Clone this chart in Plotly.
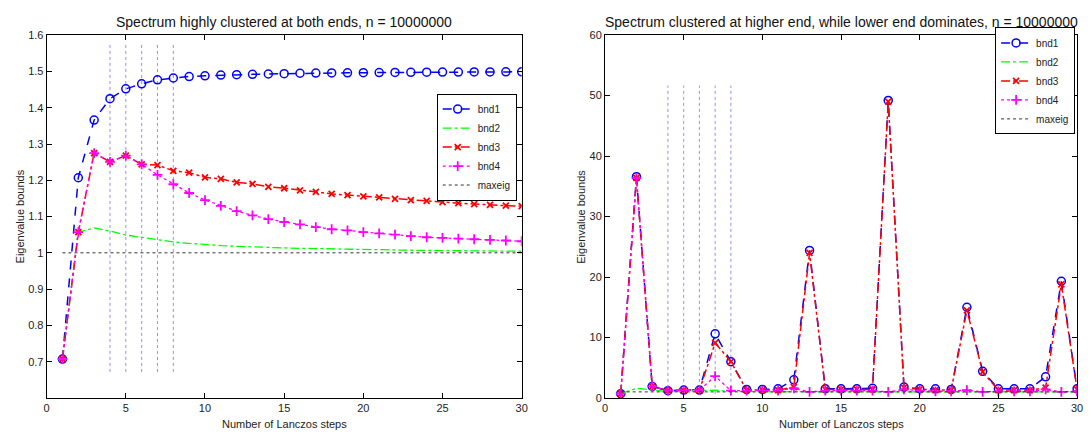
import plotly.graph_objects as go

steps = list(range(1, 31))

# Left panel: spectrum highly clustered at both ends
L_bnd1 = [0.707, 1.207, 1.366, 1.425, 1.452, 1.466, 1.477, 1.482, 1.486, 1.488,
          1.490, 1.491, 1.492, 1.493, 1.494, 1.495, 1.4955, 1.496, 1.4963, 1.4966,
          1.497, 1.4973, 1.4976, 1.4979, 1.4982, 1.4984, 1.4986, 1.4988, 1.499, 1.499]
L_bnd2 = [0.707, 1.057, 1.0687, 1.060, 1.049, 1.042, 1.036, 1.030, 1.026, 1.0225,
          1.020, 1.018, 1.016, 1.0145, 1.0135, 1.0125, 1.0115, 1.0105, 1.0097, 1.009,
          1.0083, 1.0077, 1.0071, 1.0066, 1.0061, 1.0057, 1.0053, 1.005, 1.0047, 1.0044]
L_bnd3 = [0.707, 1.057, 1.275, 1.251, 1.268, 1.244, 1.242, 1.226, 1.221, 1.208,
          1.204, 1.194, 1.190, 1.182, 1.178, 1.172, 1.168, 1.1625, 1.159, 1.1555,
          1.153, 1.149, 1.1455, 1.143, 1.140, 1.137, 1.134, 1.132, 1.130, 1.129]
L_bnd4 = [0.707, 1.057, 1.275, 1.251, 1.268, 1.244, 1.215, 1.189, 1.165, 1.1455,
          1.1295, 1.115, 1.1035, 1.093, 1.085, 1.0785, 1.071, 1.065, 1.0617, 1.057,
          1.0535, 1.050, 1.046, 1.043, 1.041, 1.039, 1.0375, 1.0357, 1.034, 1.032]
L_maxeig = [1.0] * 30

# Right panel: spectrum clustered at higher end, lower end dominates
R_bnd1 = [0.7, 36.6, 1.9, 1.2, 1.3, 1.3, 10.6, 6.0, 1.4, 1.4,
          1.5, 3.0, 24.4, 1.5, 1.5, 1.5, 1.6, 49.2, 1.8, 1.5,
          1.5, 1.4, 15.0, 4.4, 1.5, 1.5, 1.5, 3.5, 19.3, 1.5]
R_bnd2 = [0.7, 1.6, 1.3, 1.1, 1.1, 1.2, 1.3, 1.1, 1.05, 1.0,
          1.0, 1.05, 1.0, 1.0, 1.0, 1.0, 1.0, 1.0, 1.05, 1.0,
          1.0, 1.0, 1.0, 1.0, 1.0, 1.0, 1.0, 1.0, 1.0, 1.0]
R_bnd3 = [0.7, 36.4, 1.9, 1.2, 1.3, 1.3, 9.1, 6.0, 1.3, 1.3,
          1.3, 1.8, 24.0, 1.4, 1.4, 1.4, 1.4, 49.0, 1.7, 1.4,
          1.3, 1.3, 14.5, 4.3, 1.3, 1.3, 1.3, 1.7, 18.8, 1.4]
R_bnd4 = [0.7, 36.4, 1.9, 1.2, 1.3, 1.3, 3.6, 1.2, 1.2, 1.2,
          1.2, 1.6, 1.0, 1.2, 1.2, 1.2, 1.2, 1.0, 1.4, 1.2,
          1.1, 1.1, 1.3, 1.0, 1.1, 1.1, 1.1, 1.4, 1.0, 1.1]
R_maxeig = [1.0] * 30

vline_steps = [4, 5, 6, 7, 8]

titles = ["Spectrum highly clustered at both ends, n = 10000000",
          "Spectrum clustered at higher end, while lower end dominates, n = 10000000"]
x_label = "Number of Lanczos steps"
y_label = "Eigenvalue bounds"
names = ["bnd1", "bnd2", "bnd3", "bnd4", "maxeig"]

FONT = "Liberation Sans, Arial, sans-serif"

W, H = 1091, 437


def px_x(p):
    return p / W


def px_y(p):
    return 1 - p / H


fig = go.Figure()

styles = [
    dict(line=dict(color="#0000ff", dash="dash", width=1.5),
         marker=dict(symbol="circle-open", size=8, color="#0000ff", line=dict(width=1.5)),
         mode="lines+markers"),
    dict(line=dict(color="#00ff00", dash="dashdot", width=1.3), mode="lines"),
    dict(line=dict(color="#ff0000", dash="dashdot", width=1.5),
         marker=dict(symbol="x-thin-open", size=6, color="#ff0000", line=dict(width=1.8)),
         mode="lines+markers"),
    dict(line=dict(color="#ff00ff", dash="dot", width=1.3),
         marker=dict(symbol="cross-thin-open", size=7, color="#ff00ff", line=dict(width=1.8)),
         mode="lines+markers"),
    dict(line=dict(color="#333333", dash="dot", width=1), mode="lines"),
]

panels = [
    ([L_bnd1, L_bnd2, L_bnd3, L_bnd4, L_maxeig], "x", "y", "legend"),
    ([R_bnd1, R_bnd2, R_bnd3, R_bnd4, R_maxeig], "x2", "y2", "legend2"),
]

for series, xa, ya, lg in panels:
    lo = 0.95 * min(min(s) for s in series[:4])
    hi = 1.05 * max(max(s) for s in series[:4])
    for vx in vline_steps:
        fig.add_trace(go.Scatter(x=[vx, vx], y=[lo, hi], mode="lines",
                                 line=dict(color="rgba(70,70,255,0.6)", dash="dot", width=1),
                                 xaxis=xa, yaxis=ya, showlegend=False, hoverinfo="skip"))
    for s, name, st in zip(series, names, styles):
        fig.add_trace(go.Scatter(x=steps, y=s, name=name, xaxis=xa, yaxis=ya,
                                 legend=lg, **st))

axis_common = dict(showline=True, linecolor="black", linewidth=1, mirror="allticks",
                   ticks="inside", ticklen=5, tickcolor="black", showgrid=False,
                   zeroline=False, tickfont=dict(family=FONT, size=11, color="#222"))

dom_l = [px_x(44), px_x(523)]
dom_r = [px_x(607), px_x(1083)]
dom_y = [px_y(403), px_y(30)]

fig.update_layout(
    width=W, height=H,
    margin=dict(l=0, r=0, t=0, b=0),
    paper_bgcolor="white", plot_bgcolor="white",
    xaxis=dict(domain=dom_l, range=[0, 30], tickvals=[0, 5, 10, 15, 20, 25, 30],
               anchor="y", **axis_common),
    yaxis=dict(domain=dom_y, range=[0.6, 1.6],
               tickvals=[0.7, 0.8, 0.9, 1.0, 1.1, 1.2, 1.3, 1.4, 1.5, 1.6],
               ticktext=["0.7", "0.8", "0.9", "1", "1.1", "1.2", "1.3", "1.4", "1.5", "1.6"],
               anchor="x", **axis_common),
    xaxis2=dict(domain=dom_r, range=[0, 30], tickvals=[0, 5, 10, 15, 20, 25, 30],
                anchor="y2", **axis_common),
    yaxis2=dict(domain=dom_y, range=[0, 60], tickvals=[0, 10, 20, 30, 40, 50, 60],
                anchor="x2", **axis_common),
    legend=dict(x=px_x(518), y=px_y(90), xanchor="right", yanchor="top",
                bgcolor="white", bordercolor="black", borderwidth=1,
                font=dict(family=FONT, size=10, color="#222"), itemwidth=30,
                tracegroupgap=0),
    legend2=dict(x=px_x(1081), y=px_y(22), xanchor="right", yanchor="top",
                 bgcolor="white", bordercolor="black", borderwidth=1,
                 font=dict(family=FONT, size=10, color="#222"), itemwidth=30,
                 tracegroupgap=0),
    font=dict(family=FONT, color="#222"),
)

ann = []
for i, (dom, ylab_x) in enumerate([(dom_l, 17), (dom_r, 582)]):
    cx = (dom[0] + dom[1]) / 2
    ann.append(dict(text=titles[i], x=cx, y=px_y(16), xref="paper", yref="paper",
                    xanchor="center", yanchor="middle", showarrow=False,
                    font=dict(family=FONT, size=14, color="#111")))
    ann.append(dict(text=x_label, x=cx, y=px_y(430), xref="paper", yref="paper",
                    xanchor="center", yanchor="middle", showarrow=False,
                    font=dict(family=FONT, size=11, color="#222")))
    ann.append(dict(text=y_label, x=px_x(ylab_x), y=(dom_y[0] + dom_y[1]) / 2,
                    xref="paper", yref="paper", xanchor="center", yanchor="middle",
                    textangle=-90, showarrow=False,
                    font=dict(family=FONT, size=11, color="#222")))
fig.update_layout(annotations=ann)

fig.write_html("out.html",
               config={"displayModeBar": False},
               post_script="document.body.style.margin='0';"
                           "document.body.style.overflow='hidden';")
